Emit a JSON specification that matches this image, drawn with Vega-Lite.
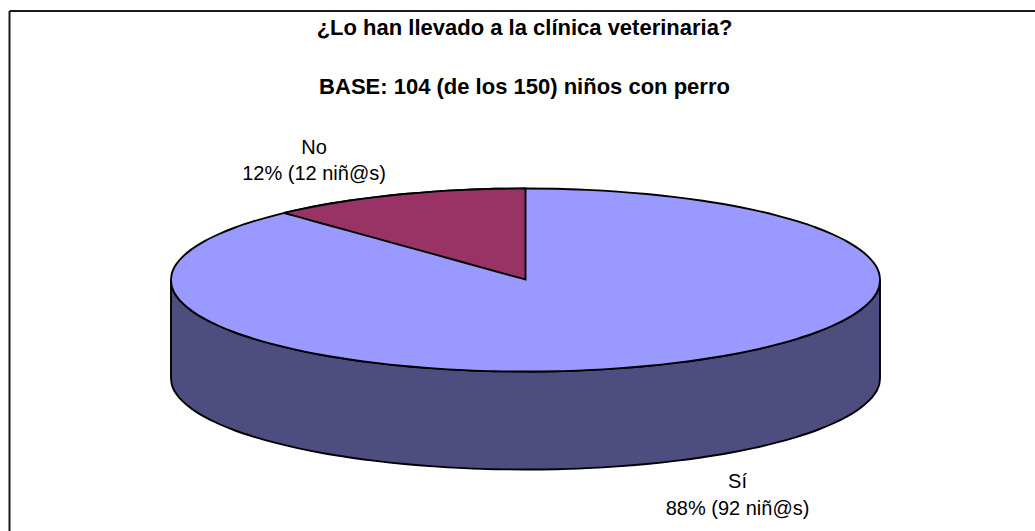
{
"$schema":"https://vega.github.io/schema/vega-lite/v6.json",
"width":1035,"height":531,
"autosize":"none",
"padding":0,
"background":"white",
"config":{"view":{"stroke":null}},
"datasets":{
"pie":[
{"x":171.0,"top":280,"low":280,"base":378},
{"x":171.5,"top":275.2,"low":284.8,"base":382.8},
{"x":172.9,"top":270.4,"low":289.6,"base":387.6},
{"x":176.4,"top":264.1,"low":295.9,"base":393.9},
{"x":183.1,"top":256.3,"low":303.7,"base":401.7},
{"x":192.4,"top":248.7,"low":311.3,"base":409.3},
{"x":204.2,"top":241.3,"low":318.7,"base":416.7},
{"x":218.5,"top":234.25,"low":325.75,"base":423.75},
{"x":235.1,"top":227.5,"low":332.5,"base":430.5},
{"x":253.9,"top":221.2,"low":338.8,"base":436.8},
{"x":274.8,"top":215.3,"low":344.7,"base":442.7},
{"x":297.6,"top":209.9,"low":350.1,"base":448.1},
{"x":322.2,"top":205,"low":355,"base":453},
{"x":348.25,"top":200.8,"low":359.2,"base":457.2},
{"x":375.7,"top":197.1,"low":362.9,"base":460.9},
{"x":404.3,"top":194,"low":366,"base":464},
{"x":433.7,"top":191.6,"low":368.4,"base":466.4},
{"x":463.9,"top":189.9,"low":370.1,"base":468.1},
{"x":494.6,"top":188.8,"low":371.2,"base":469.2},
{"x":525.5,"top":188.5,"low":371.5,"base":469.5},
{"x":556.4,"top":188.8,"low":371.2,"base":469.2},
{"x":587.1,"top":189.9,"low":370.1,"base":468.1},
{"x":617.3,"top":191.6,"low":368.4,"base":466.4},
{"x":646.7,"top":194,"low":366,"base":464},
{"x":675.3,"top":197.1,"low":362.9,"base":460.9},
{"x":702.75,"top":200.8,"low":359.2,"base":457.2},
{"x":728.8,"top":205,"low":355,"base":453},
{"x":753.4,"top":209.9,"low":350.1,"base":448.1},
{"x":776.2,"top":215.3,"low":344.7,"base":442.7},
{"x":797.1,"top":221.2,"low":338.8,"base":436.8},
{"x":815.9,"top":227.5,"low":332.5,"base":430.5},
{"x":832.5,"top":234.25,"low":325.75,"base":423.75},
{"x":846.8,"top":241.3,"low":318.7,"base":416.7},
{"x":858.6,"top":248.7,"low":311.3,"base":409.3},
{"x":867.9,"top":256.3,"low":303.7,"base":401.7},
{"x":874.6,"top":264.1,"low":295.9,"base":393.9},
{"x":878.1,"top":270.4,"low":289.6,"base":387.6},
{"x":879.5,"top":275.2,"low":284.8,"base":382.8},
{"x":880,"top":280,"low":280,"base":378}
],
"wedge":[
{"x":284,"top":213,"low":213},
{"x":297.6,"top":209.9,"low":216.7},
{"x":322.2,"top":205,"low":223.5},
{"x":348.25,"top":200.8,"low":230.6},
{"x":375.7,"top":197.1,"low":238.2},
{"x":404.3,"top":194,"low":246.1},
{"x":433.7,"top":191.6,"low":254.2},
{"x":463.9,"top":189.9,"low":262.5},
{"x":494.6,"top":188.8,"low":271},
{"x":525.5,"top":188.5,"low":279.5}
],
"frame":[{"x":9.5,"x2":1035,"y":11,"y2":531}],
"titles":[
{"text":"¿Lo han llevado a la clínica veterinaria?","x":524.5,"y":35},
{"text":"BASE: 104 (de los 150) niños con perro","x":524.5,"y":94}
],
"labels":[
{"text":"No","x":314,"y":154},
{"text":"12% (12 niñ@s)","x":314,"y":180},
{"text":"Sí","x":737.5,"y":488},
{"text":"88% (92 niñ@s)","x":737.5,"y":515}
]
},
"layer":[
{"data":{"name":"frame"},
 "mark":{"type":"rule","stroke":"#1a1a1a","strokeWidth":2},
 "encoding":{"x":{"field":"x","type":"quantitative","scale":{"domain":[0,1035],"nice":false,"zero":false},"axis":null},"x2":{"field":"x2"},"y":{"field":"y","type":"quantitative","scale":{"domain":[531,0],"nice":false,"zero":false},"axis":null}}},
{"data":{"name":"frame"},
 "mark":{"type":"rule","stroke":"#1a1a1a","strokeWidth":2},
 "encoding":{"x":{"field":"x","type":"quantitative","scale":{"domain":[0,1035],"nice":false,"zero":false},"axis":null},"y":{"field":"y","type":"quantitative","scale":{"domain":[531,0],"nice":false,"zero":false},"axis":null},"y2":{"field":"y2"}}},
{"data":{"name":"pie"},
 "mark":{"type":"area","interpolate":"monotone","fill":"#4D4D80","stroke":"#000000","strokeWidth":1.9},
 "encoding":{"x":{"field":"x","type":"quantitative","scale":{"domain":[0,1035],"nice":false,"zero":false},"axis":null},"y":{"field":"low","type":"quantitative","scale":{"domain":[531,0],"nice":false,"zero":false},"axis":null,"stack":null},"y2":{"field":"base"}}},
{"data":{"name":"pie"},
 "mark":{"type":"area","interpolate":"monotone","fill":"#9999FF","stroke":"#000000","strokeWidth":1.9},
 "encoding":{"x":{"field":"x","type":"quantitative","scale":{"domain":[0,1035],"nice":false,"zero":false},"axis":null},"y":{"field":"top","type":"quantitative","scale":{"domain":[531,0],"nice":false,"zero":false},"axis":null,"stack":null},"y2":{"field":"low"}}},
{"data":{"name":"wedge"},
 "mark":{"type":"area","interpolate":"monotone","fill":"#993366","stroke":"#000000","strokeWidth":1.9},
 "encoding":{"x":{"field":"x","type":"quantitative","scale":{"domain":[0,1035],"nice":false,"zero":false},"axis":null},"y":{"field":"top","type":"quantitative","scale":{"domain":[531,0],"nice":false,"zero":false},"axis":null,"stack":null},"y2":{"field":"low"}}},
{"data":{"name":"titles"},
 "mark":{"type":"text","font":"Liberation Sans","fontSize":22,"fontWeight":"bold","align":"center","baseline":"alphabetic","color":"#000000"},
 "encoding":{"x":{"field":"x","type":"quantitative","scale":{"domain":[0,1035],"nice":false,"zero":false},"axis":null},"y":{"field":"y","type":"quantitative","scale":{"domain":[531,0],"nice":false,"zero":false},"axis":null},"text":{"field":"text"}}},
{"data":{"name":"labels"},
 "mark":{"type":"text","font":"Liberation Sans","fontSize":20,"align":"center","baseline":"alphabetic","color":"#000000"},
 "encoding":{"x":{"field":"x","type":"quantitative","scale":{"domain":[0,1035],"nice":false,"zero":false},"axis":null},"y":{"field":"y","type":"quantitative","scale":{"domain":[531,0],"nice":false,"zero":false},"axis":null},"text":{"field":"text"}}}
]
}
